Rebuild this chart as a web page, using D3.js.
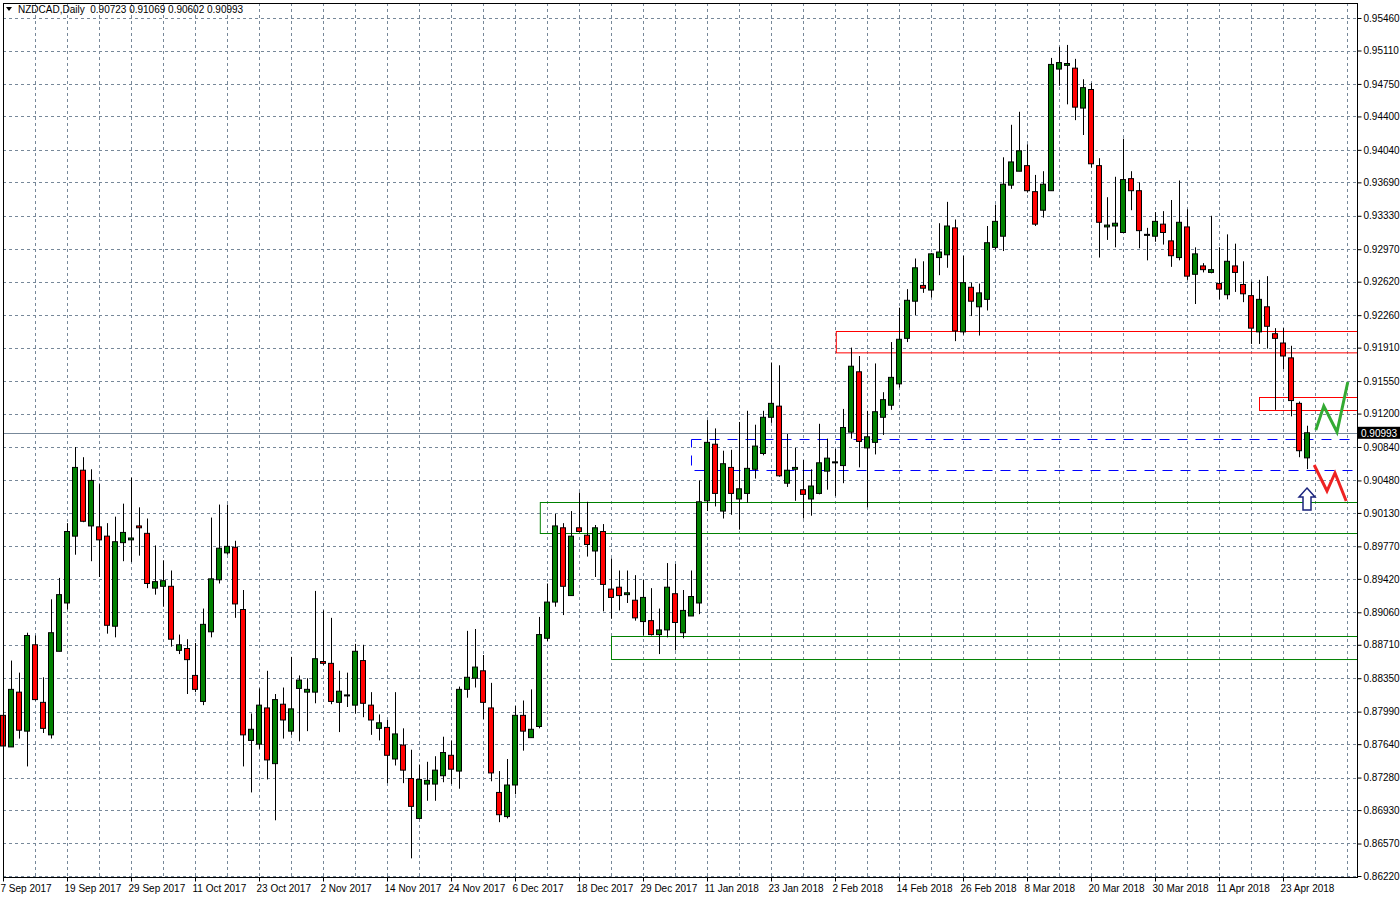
<!DOCTYPE html>
<html><head><meta charset="utf-8">
<script src="https://cdn.jsdelivr.net/npm/d3@7"></script>
<style>body{margin:0;background:#fff}svg{display:block}text{font-family:"Liberation Sans",Arial,sans-serif;font-size:10px}</style>
</head><body><svg id="c" width="1400" height="900"></svg>
<script>
const opens=[.8795,.8761,.8820,.8778,.8871,.8809,.8774,.8864,.8916,.8988,.9059,.8999,.8998,.8988,.8891,.8981,.8984,.8999,.8991,.8932,.8934,.8934,.8865,.8867,.8838,.8810,.8885,.8941,.8970,.8976,.8909,.8768,.8764,.8803,.8743,.8807,.8778,.8824,.8820,.8820,.8853,.8851,.8809,.8817,.8806,.8854,.8806,.8781,.8782,.8748,.8763,.8727,.8684,.8721,.8721,.8730,.8752,.8735,.8823,.8835,.8843,.8803,.8712,.8686,.8720,.8795,.8771,.8783,.8878,.8917,.8997,.8924,.8997,.8989,.8972,.8993,.8931,.8933,.8925,.8919,.8896,.8897,.8882,.8887,.8926,.8884,.8902,.8916,.9026,.9087,.9015,.9062,.9028,.9034,.9060,.9077,.9116,.9128,.9045,.9060,.9038,.9028,.9034,.9058,.9067,.9064,.9100,.9165,.9083,.9089,.9116,.9129,.9152,.9201,.9241,.9258,.9253,.9288,.9291,.9320,.9208,.9256,.9235,.9243,.9299,.9311,.9366,.9381,.9387,.9359,.9339,.9360,.9491,.9495,.9492,.9449,.9469,.9387,.9321,.9322,.9315,.9373,.9360,.9313,.9311,.9324,.9306,.9288,.9321,.9270,.9279,.9272,.9260,.9248,.9279,.9259,.9247,.9208,.9235,.9206,.9196,.9180,.9131,.90723];
const highs=[.8831,.8854,.8841,.8884,.8881,.8836,.8920,.8943,.9002,.9084,.9073,.9060,.9044,.9002,.9009,.9023,.9051,.9019,.9007,.8978,.8962,.8951,.8882,.8877,.8873,.8910,.9008,.9022,.9022,.8983,.8930,.8797,.8824,.8843,.8818,.8825,.8858,.8838,.8835,.8929,.8908,.8900,.8843,.8841,.8872,.8871,.8820,.8796,.8790,.8820,.8781,.8758,.8742,.8745,.8751,.8772,.8768,.8826,.8886,.8888,.8860,.8830,.8735,.8748,.8805,.8811,.8823,.8901,.8937,.9012,.9002,.9015,.9035,.9025,.9000,.9001,.8964,.8951,.8951,.8946,.8941,.8932,.8910,.8959,.8958,.8930,.8951,.9048,.9113,.9104,.9080,.9081,.9111,.9123,.9108,.9123,.9175,.9172,.9098,.9083,.9070,.9060,.9109,.9093,.9082,.9125,.9191,.9182,.9123,.9174,.9143,.9197,.9234,.9254,.9287,.9284,.9293,.9325,.9348,.9329,.9290,.9261,.9260,.9322,.9345,.9396,.9431,.9445,.9410,.9377,.9381,.9503,.9515,.9517,.9502,.9480,.9476,.9395,.9353,.9375,.9416,.9381,.9369,.9320,.9337,.9338,.9350,.9371,.9340,.9299,.9282,.9333,.9299,.9313,.9303,.9284,.9262,.9264,.9268,.9212,.9212,.9193,.9133,.91069];
const lows=[.8755,.8761,.8770,.8740,.8811,.8776,.8770,.8864,.8909,.8968,.9003,.8961,.8944,.8883,.8879,.8961,.8960,.8967,.8932,.8925,.8912,.8869,.8861,.8818,.8820,.8806,.8879,.8937,.8968,.8900,.8740,.8712,.8759,.8726,.8682,.8770,.8774,.8767,.8778,.8808,.8849,.8807,.8777,.8804,.8797,.8793,.8774,.8768,.8722,.8741,.8722,.8641,.8683,.8703,.8703,.8723,.8721,.8716,.8814,.8825,.8791,.8724,.8680,.8684,.8710,.8757,.8771,.8781,.8875,.8912,.8903,.8924,.8992,.8966,.8944,.8907,.8899,.8908,.8916,.8897,.8881,.8881,.8861,.8879,.8865,.8878,.8902,.8904,.9015,.9020,.9007,.9011,.8995,.9024,.9050,.9075,.9110,.9052,.9041,.9026,.9007,.9010,.9033,.9038,.9031,.9045,.9093,.9062,.9019,.9076,.9097,.9124,.9148,.9197,.9226,.9250,.9245,.9269,.9277,.9198,.9205,.9225,.9204,.9231,.9297,.9295,.9362,.9381,.9358,.9322,.9331,.9360,.9473,.9453,.9436,.9420,.9385,.9288,.9307,.9299,.9315,.9339,.9298,.9285,.9305,.9302,.9278,.9285,.9264,.9238,.9272,.9271,.9243,.9243,.9251,.9240,.9195,.9195,.9190,.9124,.9168,.9117,.9073,.90602];
const closes=[.8762,.8823,.8779,.8881,.8812,.8781,.8884,.8925,.8993,.9062,.9004,.9048,.8984,.8892,.8982,.8992,.8986,.8997,.8937,.8939,.8940,.8877,.8871,.8855,.8823,.8893,.8942,.8975,.8977,.8915,.8774,.8780,.8806,.8747,.8812,.8790,.8802,.8833,.8823,.8856,.8851,.8810,.8821,.8817,.8864,.8808,.8790,.8787,.8752,.8775,.8736,.8697,.8726,.8725,.8736,.8755,.8737,.8823,.8836,.8847,.8809,.8733,.8688,.8720,.8795,.8778,.8780,.8882,.8917,.8999,.8934,.8988,.8993,.8979,.8997,.8936,.8922,.8924,.8927,.8900,.8922,.8882,.8887,.8933,.8895,.8908,.8923,.9025,.9089,.9034,.9066,.9034,.9039,.9061,.9085,.9116,.9131,.9053,.9059,.9062,.9033,.9042,.9067,.9072,.9068,.9105,.9171,.9090,.9095,.9122,.9135,.9159,.9200,.9242,.9277,.9255,.9292,.9294,.9322,.9209,.9261,.9241,.9250,.9304,.9327,.9367,.9391,.9403,.9360,.9324,.9367,.9496,.9498,.9497,.9450,.9471,.9389,.9326,.9323,.9325,.9372,.9360,.9317,.9313,.9327,.9315,.9290,.9326,.9268,.9292,.9275,.9275,.9254,.9284,.9272,.9249,.9212,.9243,.9214,.9201,.9182,.9134,.9080,.90993];
const priceTicks=[0.95460,0.95110,0.94750,0.94400,0.94040,0.93690,0.93330,0.92970,0.92620,0.92260,0.91910,0.91550,0.91200,0.90840,0.90480,0.90130,0.89770,0.89420,0.89060,0.88710,0.88350,0.87990,0.87640,0.87280,0.86930,0.86570,0.86220];
const dateLabels=["7 Sep 2017","19 Sep 2017","29 Sep 2017","11 Oct 2017","23 Oct 2017","2 Nov 2017","14 Nov 2017","24 Nov 2017","6 Dec 2017","18 Dec 2017","29 Dec 2017","11 Jan 2018","23 Jan 2018","2 Feb 2018","14 Feb 2018","26 Feb 2018","8 Mar 2018","20 Mar 2018","30 Mar 2018","11 Apr 2018","23 Apr 2018"];
const dateBars=dateLabels.map((d,i)=>i*8);
const lastPrice=0.90993;
const redZone=[104.1,0.9209,0.9186];
const redSmallZone=[157,0.91378,0.91238];
const blueZone=[86,0.90926,0.90592];
const greenZone1=[67.1,0.90247,0.89913];
const greenZone2=[76,0.88804,0.88556];
const greenZig=[[164.1,0.91023],[165.1,0.91281],[166.75,0.91001],[168.1,0.91540]];
const redZig=[[163.9,0.90646],[165.5,0.90366],[166.5,0.90560],[167.9,0.90258]];

const svg=d3.select("#c");
const L=3,R=1357,T=3,B=877;
const x=d3.scaleLinear().domain([0,163]).range([3,1307]);
const y=d3.scaleLinear().domain([0.8622,0.9546]).range([876,18]);
const grid="#778899";
const g=svg.append("g");
g.selectAll(".hg").data(priceTicks).join("line").attr("x1",L).attr("x2",R).attr("y1",d=>Math.round(y(d))+.5).attr("y2",d=>Math.round(y(d))+.5).attr("stroke",grid).attr("stroke-dasharray","3,3");
g.selectAll(".vg").data(d3.range(4,170,4).filter(i=>x(i)<R)).join("line").attr("x1",d=>x(d)+.5).attr("x2",d=>x(d)+.5).attr("y1",T).attr("y2",B).attr("stroke",grid).attr("stroke-dasharray","3,3");
function zone(z,color,dash){
  g.append("rect").attr("x",x(z[0])+.5).attr("y",Math.round(y(z[1]))+.5).attr("width",R-x(z[0])).attr("height",y(z[2])-y(z[1])).attr("fill","none").attr("stroke",color).attr("stroke-width",1).attr("stroke-dasharray",dash||null);
}
zone(greenZone1,"#008000");zone(greenZone2,"#008000");zone(redZone,"#ff0000");zone(redSmallZone,"#ff0000");zone(blueZone,"#0000ff","10,8");
g.append("line").attr("x1",L).attr("x2",R).attr("y1",Math.round(y(lastPrice))+.5).attr("y2",Math.round(y(lastPrice))+.5).attr("stroke","#778899");
const idx=d3.range(opens.length);
const cg=svg.append("g");
cg.selectAll(".w").data(idx).join("line").attr("x1",i=>x(i)+.5).attr("x2",i=>x(i)+.5).attr("y1",i=>y(highs[i])).attr("y2",i=>y(lows[i])).attr("stroke","#000");
cg.selectAll(".b").data(idx).join("rect").attr("x",i=>x(i)-2.5).attr("width",5)
 .attr("y",i=>y(Math.max(opens[i],closes[i]))).attr("height",i=>Math.max(1,Math.abs(y(opens[i])-y(closes[i]))))
 .attr("fill",i=>closes[i]>=opens[i]?"#008000":"#ff0000").attr("stroke","#000").attr("stroke-width",1);
const ln=d3.line().x(d=>x(d[0])).y(d=>y(d[1]));
svg.append("path").attr("d",ln(greenZig)).attr("fill","none").attr("stroke","#33aa33").attr("stroke-width",3);
svg.append("path").attr("d",ln(redZig)).attr("fill","none").attr("stroke","#ee2222").attr("stroke-width",3);
const ax=x(163),ab=y(0.90161),at=y(0.90398);
svg.append("path").attr("d",`M${ax},${at} L${ax+8},${at+9} L${ax+4},${at+9} L${ax+4},${ab} L${ax-4},${ab} L${ax-4},${at+9} L${ax-8},${at+9} Z`).attr("fill","#fff").attr("stroke","#1a237e").attr("stroke-width",1.5);
svg.append("rect").attr("x",L+.5).attr("y",T+.5).attr("width",R-L).attr("height",B-T).attr("fill","none").attr("stroke","#000");
const ra=svg.append("g").attr("transform",`translate(${R+.5},0)`).call(d3.axisRight(y).tickValues(priceTicks).tickFormat(d=>d.toFixed(5)).tickSize(4).tickPadding(2));
ra.select(".domain").remove();
ra.selectAll("line").attr("stroke","#000");ra.selectAll("text").attr("fill","#000").style("font-size","10px").style("font-family","Liberation Sans, Arial, sans-serif");
const ba=svg.append("g").attr("transform",`translate(0,${B+.5})`).call(d3.axisBottom(x).tickValues(dateBars).tickFormat((d,i)=>dateLabels[i]).tickSize(4).tickPadding(3));
ba.select(".domain").remove();
ba.selectAll("line").attr("stroke","#000");ba.selectAll("text").attr("fill","#000").attr("text-anchor","start").attr("dx",-3).style("font-size","10px").style("font-family","Liberation Sans, Arial, sans-serif");
const ly=y(lastPrice);
svg.append("rect").attr("x",R+1).attr("y",ly-6).attr("width",42).attr("height",12).attr("fill","#000");
svg.append("text").attr("x",R+4).attr("y",ly+4).attr("fill","#fff").text(lastPrice.toFixed(5));
svg.append("path").attr("d","M6,7 L12,7 L9,11 Z").attr("fill","#000");
svg.append("text").attr("x",18).attr("y",13).attr("fill","#000").text("NZDCAD,Daily  0.90723 0.91069 0.90602 0.90993").style("white-space","pre");
</script></body></html>
